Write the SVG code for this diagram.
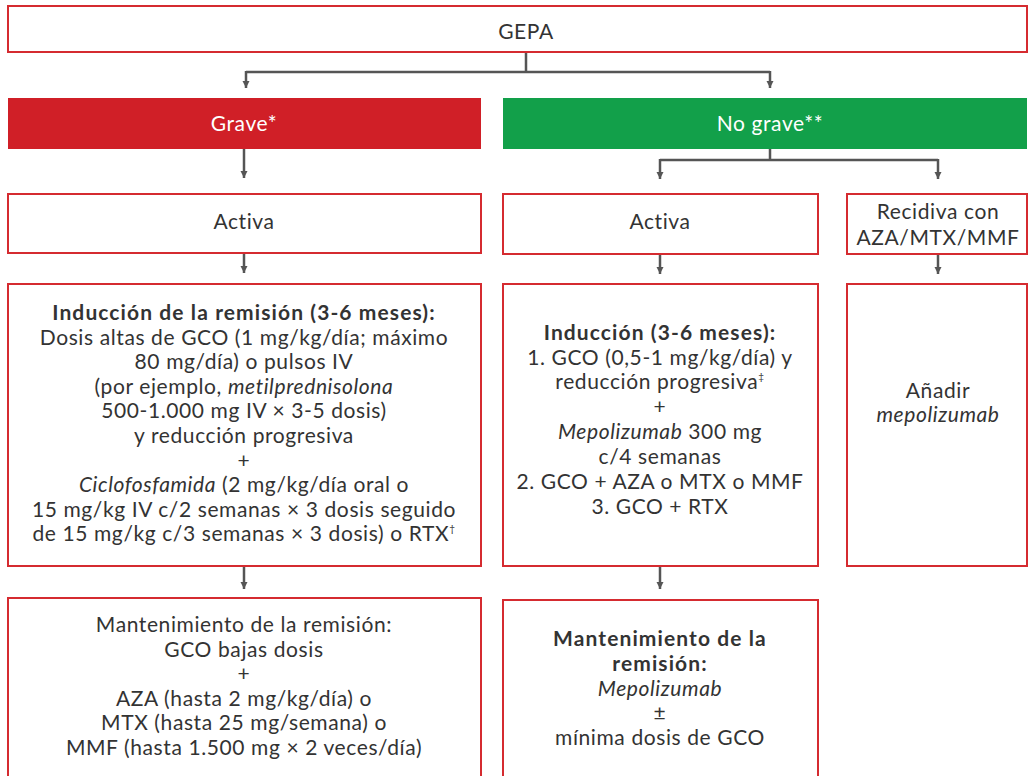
<svg xmlns="http://www.w3.org/2000/svg" width="1033" height="776" viewBox="0 0 1033 776">
<defs>
<marker id="ah" viewBox="0 0 10 10" refX="10" refY="5" markerWidth="3" markerHeight="3.4" orient="auto" markerUnits="strokeWidth">
<path d="M0,0 L10,5 L0,10 Z" fill="#555"/>
</marker>
<style>
.box{fill:#fff;stroke:#d52b30;stroke-width:2}
.t{font-family:Lato,"Open Sans","Liberation Sans",sans-serif;font-size:21px;letter-spacing:0.6px;fill:#333;text-anchor:middle}
.b{font-weight:bold;letter-spacing:1.1px}
.i{font-style:italic}
.w{fill:#fff}
.c{fill:none;stroke:#555;stroke-width:2.5}
.ca{fill:none;stroke:#555;stroke-width:2.5;marker-end:url(#ah)}
</style>
</defs>
<rect width="1033" height="776" fill="#fff"/>
<g id="connectors">
<path class="c" d="M526,52 V72 M246,72 H770"/>
<path class="ca" d="M246,71 V88"/>
<path class="ca" d="M770,71 V88"/>
<path class="ca" d="M244,149 V178"/>
<path class="c" d="M770,149 V160 M660,160 H938"/>
<path class="ca" d="M660,159 V179"/>
<path class="ca" d="M938,159 V179"/>
<path class="ca" d="M244,254 V273"/>
<path class="ca" d="M660,255 V274"/>
<path class="ca" d="M938,255 V274"/>
<path class="ca" d="M244,567 V589"/>
<path class="ca" d="M660,567 V589"/>
</g>
<g id="gepa">
<rect class="box" x="8" y="6" width="1019" height="46"/>
<text class="t" x="526" y="39">GEPA</text>
</g>
<g id="grave">
<rect x="8" y="98" width="473" height="51" fill="#d01f27"/>
<text class="t w" x="244" y="131">Grave*</text>
</g>
<g id="nograve">
<rect x="503" y="98" width="524" height="51" fill="#12a04a"/>
<text class="t w" x="770" y="131">No grave**</text>
</g>
<g id="activa1">
<rect class="box" x="8" y="194" width="473" height="59"/>
<text class="t" x="244" y="229">Activa</text>
</g>
<g id="activa2">
<rect class="box" x="503" y="194" width="315" height="60"/>
<text class="t" x="660" y="229">Activa</text>
</g>
<g id="recidiva">
<rect class="box" x="847" y="194" width="180" height="60"/>
<text class="t" x="938" y="219">Recidiva con</text>
<text class="t" x="938" y="245">AZA/MTX/MMF</text>
</g>
<g id="induccion1">
<rect class="box" x="8" y="284" width="473" height="282"/>
<text class="t b" x="244" y="320">Inducción de la remisión (3-6 meses):</text>
<text class="t" x="244" y="345">Dosis altas de GCO (1 mg/kg/día; máximo</text>
<text class="t" x="244" y="369">80 mg/día) o pulsos IV</text>
<text class="t" x="244" y="394">(por ejemplo, <tspan class="i">metilprednisolona</tspan></text>
<text class="t" x="244" y="418">500-1.000 mg IV × 3-5 dosis)</text>
<text class="t" x="244" y="443">y reducción progresiva</text>
<text class="t" x="244" y="468">+</text>
<text class="t" x="244" y="492"><tspan class="i">Ciclofosfamida</tspan> (2 mg/kg/día oral o</text>
<text class="t" x="244" y="517">15 mg/kg IV c/2 semanas × 3 dosis seguido</text>
<text class="t" x="244" y="541">de 15 mg/kg c/3 semanas × 3 dosis) o RTX<tspan font-size="10" dy="-9">†</tspan></text>
</g>
<g id="induccion2">
<rect class="box" x="503" y="284" width="315" height="282"/>
<text class="t b" x="660" y="340">Inducción (3-6 meses):</text>
<text class="t" x="660" y="365">1. GCO (0,5-1 mg/kg/día) y</text>
<text class="t" x="660" y="389">reducción progresiva<tspan font-size="10" dy="-9">‡</tspan></text>
<text class="t" x="660" y="414">+</text>
<text class="t" x="660" y="439"><tspan class="i">Mepolizumab</tspan> 300 mg</text>
<text class="t" x="660" y="464">c/4 semanas</text>
<text class="t" x="660" y="489">2. GCO + AZA o MTX o MMF</text>
<text class="t" x="660" y="514">3. GCO + RTX</text>
</g>
<g id="anadir">
<rect class="box" x="847" y="284" width="180" height="282"/>
<text class="t" x="938" y="398">Añadir</text>
<text class="t i" x="938" y="422">mepolizumab</text>
</g>
<g id="mant1">
<rect class="box" x="8" y="598" width="473" height="190"/>
<text class="t" x="244" y="632">Mantenimiento de la remisión:</text>
<text class="t" x="244" y="657">GCO bajas dosis</text>
<text class="t" x="244" y="681">+</text>
<text class="t" x="244" y="706">AZA (hasta 2 mg/kg/día) o</text>
<text class="t" x="244" y="730">MTX (hasta 25 mg/semana) o</text>
<text class="t" x="244" y="755">MMF (hasta 1.500 mg × 2 veces/día)</text>
</g>
<g id="mant2">
<rect class="box" x="503" y="600" width="315" height="190"/>
<text class="t b" x="660" y="646">Mantenimiento de la</text>
<text class="t b" x="660" y="671">remisión:</text>
<text class="t i" x="660" y="696">Mepolizumab</text>
<text class="t" x="660" y="720">±</text>
<text class="t" x="660" y="745">mínima dosis de GCO</text>
</g>
</svg>
